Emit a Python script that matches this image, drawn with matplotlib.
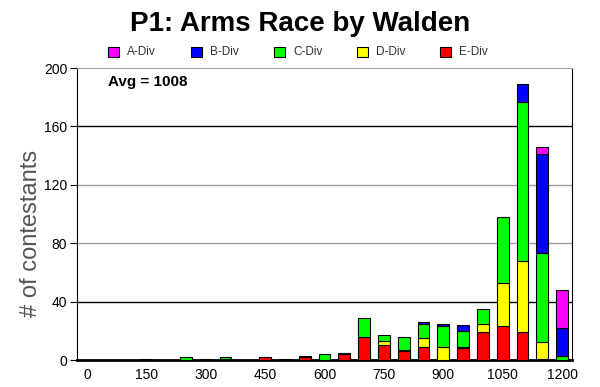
import matplotlib.pyplot as plt
from matplotlib.patches import Rectangle
import numpy as np

# --- Data ---
BINS = [str(b) for b in range(0, 1250, 50)]
TICK_LABELS = ["0", "150", "300", "450", "600", "750", "900", "1050", "1200"]

e_div = [0, 0, 0, 0, 0, 0, 0, 1, 0, 2, 0, 2, 0, 4, 16, 10, 6, 9, 0, 8, 19, 23, 19, 1, 0]
d_div = [0, 0, 0, 0, 0, 0, 0, 0, 0, 0, 0, 0, 0, 0, 0, 3, 1, 6, 9, 1, 6, 30, 49, 11, 0]
c_div = [0, 0, 0, 1, 0, 2, 1, 1, 0, 0, 1, 1, 4, 1, 13, 4, 9, 10, 14, 11, 10, 45, 109, 61, 3]
b_div = [0, 0, 0, 0, 0, 0, 0, 0, 0, 0, 0, 0, 0, 0, 0, 0, 0, 1, 2, 4, 0, 0, 12, 68, 19]
a_div = [0, 0, 0, 0, 0, 0, 0, 0, 0, 0, 0, 0, 0, 0, 0, 0, 0, 0, 0, 0, 0, 0, 0, 5, 26]

SERIES = [
    ("E-Div", e_div, "#ff0000"),
    ("D-Div", d_div, "#ffff00"),
    ("C-Div", c_div, "#00ff00"),
    ("B-Div", b_div, "#0000ff"),
    ("A-Div", a_div, "#ff00ff"),
]
LEGEND_ORDER = ["A-Div", "B-Div", "C-Div", "D-Div", "E-Div"]
AVG = 1008

W, H = 600, 387
plt.rcParams['font.family'] = ['Liberation Sans', 'DejaVu Sans']

fig = plt.figure(figsize=(W / 100, H / 100), dpi=100)
ax = fig.add_axes([77 / W, 1 - 360 / H, 495 / W, 292 / H])

x = np.arange(len(BINS))
bottom = np.zeros(len(BINS))
for name, vals, color in SERIES:
    vals = np.array(vals, dtype=float)
    keep = vals > 0  # skip empty segments so no stray outlines
    ax.bar(x[keep], vals[keep], bottom=bottom[keep], width=0.6, color=color,
           edgecolor="black", linewidth=0.8, zorder=3)
    bottom += vals

# gridlines (alternating black / gray like the original)
for yv, c in [(40, "black"), (80, "#a0a0a0"), (120, "#a0a0a0"), (160, "black")]:
    ax.axhline(yv, color=c, linewidth=1, zorder=1)

ax.set_xlim(-0.5, len(BINS) - 0.5)
ax.set_ylim(0, 200)
ax.set_yticks([0, 40, 80, 120, 160, 200])
ax.set_xticks(x[::3])
ax.set_xticklabels(TICK_LABELS)
ax.tick_params(axis="x", length=0, labelsize=10, pad=6)
ax.tick_params(axis="y", length=5, labelsize=10, pad=2)

ax.spines["top"].set_color("#a0a0a0")
ax.spines["bottom"].set_linewidth(2)

ax.set_ylabel("# of contestants", fontsize=17, color="#555555")
ax.yaxis.set_label_coords(-0.071, 0.435)
ax.text(0.063, 0.952, f"Avg = {AVG}", transform=ax.transAxes, fontsize=11,
        fontweight="bold", va="center", ha="left")

fig.text(0.5, 1 - 24 / H, "P1: Arms Race by Walden", fontsize=20,
         fontweight="bold", ha="center", va="center")

# legend drawn by hand to match the spacing of the original
color_of = {n: c for n, _, c in SERIES}
for k, name in enumerate(LEGEND_ORDER):
    x0 = 108 + 83 * k
    fig.patches.append(Rectangle((x0 / W, 1 - 57 / H), 11 / W, 10 / H,
                                 transform=fig.transFigure, facecolor=color_of[name],
                                 edgecolor="black", linewidth=0.8))
    fig.text((x0 + 19) / W, 1 - 52 / H, name, fontsize=8.5, color="#333333",
             ha="left", va="center")

plt.savefig("out.png", dpi=100, facecolor="white")
